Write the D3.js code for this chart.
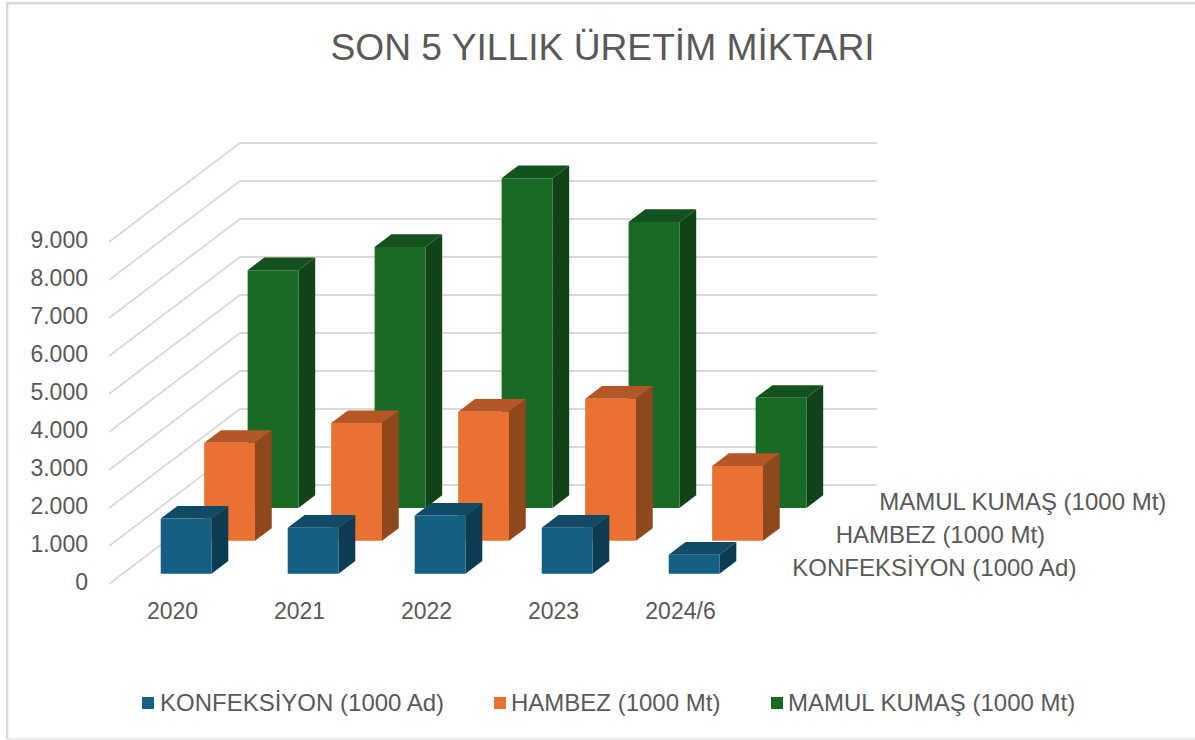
<!DOCTYPE html>
<html>
<head>
<meta charset="utf-8">
<script src="https://cdn.jsdelivr.net/npm/d3@7"></script>
<style>
  html, body { margin: 0; padding: 0; background: #fff; }
  text { font-family: "Liberation Sans", Arial, sans-serif; fill: #595959; }
</style>
</head>
<body>
<div id="chart"></div>
<script>
const years = ["2020", "2021", "2022", "2023", "2024/6"];
const seriesNames = ["KONFEKSİYON (1000 Ad)", "HAMBEZ (1000 Mt)", "MAMUL KUMAŞ (1000 Mt)"];
const konfeksiyon = [1450, 1210, 1530, 1210, 500];
const hambez = [2580, 3100, 3400, 3740, 1970];
const mamulKumas = [6260, 6870, 8680, 7530, 2900];
const frontColors = ["#156082", "#e97132", "#196b24"];
const topColors = ["#114a66", "#b35726", "#13521c"];
const sideColors = ["#0c3c52", "#8f471e", "#104317"];
const yTicks = d3.range(0, 10000, 1000);

const width = 1195;
const height = 740;
const originX = 109;   // front left corner of the floor
const originY = 584;
const depthX = 131;    // how far the floor runs back
const depthY = 99;
const barDepth = 0.128;

const svg = d3.select("#chart").append("svg")
    .attr("width", width)
    .attr("height", height)
    .style("display", "block");

const x = d3.scaleBand().domain(years).range([0, 635]).paddingInner(0.6).paddingOuter(0.3);
const xStep = d3.scaleBand().domain(years).range([0, 635]);
const y = d3.scaleLinear().domain([0, 9000]).range([0, 342]);
const z = d3.scalePoint().domain(seriesNames).range([0.17, 5 / 6]);

// oblique projection of the 3d chart onto the page
function project(px, py, t) {
    return [originX + px + t * depthX, originY - py - t * depthY];
}

function poly(points) {
    return d3.line()(points);
}

// frame
svg.append("path")
    .attr("d", "M1195,3.2H7.2V739")
    .attr("fill", "none")
    .attr("stroke", "#d9d9d9")
    .attr("stroke-width", 2.4);
svg.append("path")
    .attr("d", "M7,739H1195")
    .attr("fill", "none")
    .attr("stroke", "#e6e6e6")
    .attr("stroke-width", 1.5);

// gridlines, side wall then back wall
const grid = svg.append("g").attr("fill", "none").attr("stroke", "#d9d9d9").attr("stroke-width", 1.8);
grid.selectAll("path")
    .data(yTicks)
    .join("path")
    .attr("d", d => poly([project(0, y(d), 0), project(0, y(d), 1), project(637, y(d), 1)]));

// bars, furthest series first
const values = [konfeksiyon, hambez, mamulKumas];
seriesNames.map((name, i) => i).reverse().forEach(i => {
    const t = z(seriesNames[i]);
    const t0 = t - barDepth * 0.5 - 0.002;
    const t1 = t0 + barDepth;
    const bars = svg.append("g")
        .selectAll("g")
        .data(years.map((year, j) => ({ year: year, value: values[i][j] })))
        .join("g");

    bars.append("path")
        .attr("fill", sideColors[i])
        .attr("d", d => {
            const r = x(d.year) + x.bandwidth();
            return poly([project(r, 0, t0), project(r, 0, t1), project(r, y(d.value), t1), project(r, y(d.value), t0)]) + "Z";
        });

    bars.append("path")
        .attr("fill", topColors[i])
        .attr("d", d => {
            const l = x(d.year), r = l + x.bandwidth(), h = y(d.value);
            return poly([project(l, h, t0), project(l, h, t1), project(r, h, t1), project(r, h, t0)]) + "Z";
        });

    bars.append("path")
        .attr("fill", frontColors[i])
        .attr("d", d => {
            const l = x(d.year), r = l + x.bandwidth(), h = y(d.value);
            return poly([project(l, 0, t0), project(l, h, t0), project(r, h, t0), project(r, 0, t0)]) + "Z";
        });
});

// axes
const thousands = d3.formatLocale({ decimal: ",", thousands: ".", grouping: [3], currency: ["", ""] }).format(",d");

const yAxisScale = d3.scaleLinear().domain([0, 9000]).range([originY, originY - 342]);
svg.append("g")
    .attr("transform", "translate(96,-2)")
    .call(d3.axisLeft(yAxisScale).tickValues(yTicks).tickFormat(thousands).tickSize(0).tickPadding(8))
    .call(g => g.select(".domain").remove())
    .call(g => g.selectAll("text").attr("font-size", 23).attr("font-family", null));

svg.append("g")
    .attr("transform", `translate(${originX},603)`)
    .call(d3.axisBottom(xStep).tickSize(0).tickPadding(0))
    .call(g => g.select(".domain").remove())
    .call(g => g.selectAll("text").attr("font-size", 23).attr("font-family", null).attr("dy", "0.71em"));

// depth axis labels
svg.append("g")
    .selectAll("text")
    .data(seriesNames)
    .join("text")
    .attr("x", d => project(635, 0, z(d))[0] + 26)
    .attr("y", d => project(635, 0, z(d))[1])
    .attr("dy", "0.35em")
    .attr("font-size", 24)
    .text(d => d);

// title
svg.append("text")
    .attr("x", 602.5)
    .attr("y", 60)
    .attr("text-anchor", "middle")
    .attr("font-size", 37.2)
    .text("SON 5 YILLIK ÜRETİM MİKTARI");

// legend
const legendX = [142, 494, 771];
const legend = svg.append("g")
    .selectAll("g")
    .data(seriesNames)
    .join("g")
    .attr("transform", (d, i) => `translate(${legendX[i]},697)`);

legend.append("rect")
    .attr("width", 12)
    .attr("height", 12)
    .attr("fill", (d, i) => frontColors[i]);

legend.append("text")
    .attr("x", (d, i) => i === 0 ? 18 : 17)
    .attr("y", 6)
    .attr("dy", "0.35em")
    .attr("font-size", 24)
    .text(d => d);
</script>
</body>
</html>
